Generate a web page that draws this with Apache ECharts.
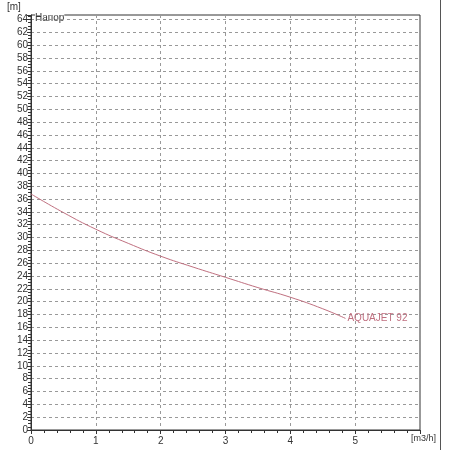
<!DOCTYPE html>
<html>
<head>
<meta charset="utf-8">
<script src="https://cdn.jsdelivr.net/npm/echarts@6/dist/echarts.min.js"></script>
<style>html,body{margin:0;padding:0;background:#fff}#c{width:450px;height:450px}</style>
</head>
<body>
<div id="c"></div>
<script>
// расход, м3/ч
const flow = [0, 0.5, 1, 1.5, 2, 2.5, 3, 3.5, 4, 4.5, 4.85];
// напор, м
const head = [36.8, 33.9, 31.3, 29.1, 27.1, 25.4, 23.8, 22.2, 20.7, 18.9, 17.4];
const seriesName = 'AQUAJET 92';

const chart = echarts.init(document.getElementById('c'));
const font = 'Liberation Sans';
const axisCol = '#333';

chart.setOption({
    backgroundColor: '#fff',
    animation: false,
    grid: { left: 31, right: 30, top: 15, bottom: 20, show: true, borderColor: axisCol, borderWidth: 1 },
    xAxis: {
        type: 'value', min: 0, max: 6, interval: 1,
        axisLine: { lineStyle: { color: axisCol } },
        axisTick: { length: 4, lineStyle: { color: axisCol } },
        minorTick: { show: true, splitNumber: 5, length: 3, lineStyle: { color: axisCol } },
        axisLabel: { color: '#333', fontFamily: font, fontSize: 10, showMaxLabel: false, margin: 6 },
        splitLine: { lineStyle: { color: '#999', type: [3, 3] } }
    },
    yAxis: {
        type: 'value', min: 0, max: 64.7, interval: 2,
        axisLine: { show: true, lineStyle: { color: axisCol } },
        axisTick: { show: true, length: 4, lineStyle: { color: axisCol } },
        minorTick: { show: true, splitNumber: 4, length: 3, lineStyle: { color: axisCol } },
        axisLabel: { color: '#333', fontFamily: font, fontSize: 10, showMaxLabel: false, margin: 3 },
        splitLine: { lineStyle: { color: '#999', type: [3, 3] } }
    },
    graphic: [
        { type: 'text', left: 7, top: 2, style: { text: '[m]', fontFamily: font, fontSize: 10, fill: '#333' } },
        { type: 'text', left: 35, top: 13, style: { text: 'Напор', fontFamily: font, fontSize: 10, fill: '#333', backgroundColor: '#fff' } },
        { type: 'text', left: 411, top: 434, style: { text: '[m3/h]', fontFamily: font, fontSize: 9, fill: '#333' } },
        { type: 'line', shape: { x1: 440.5, y1: 0, x2: 440.5, y2: 450 }, style: { stroke: '#555', lineWidth: 1 } }
    ],
    series: [{
        name: seriesName,
        type: 'line',
        smooth: true,
        symbol: 'none',
        data: flow.map((f, i) => [f, head[i]]),
        lineStyle: { color: '#c07080', width: 1 },
        endLabel: { show: true, formatter: seriesName, color: '#c07080', fontFamily: font, fontSize: 10, offset: [-6, 0] }
    }]
});
</script>
</body>
</html>
